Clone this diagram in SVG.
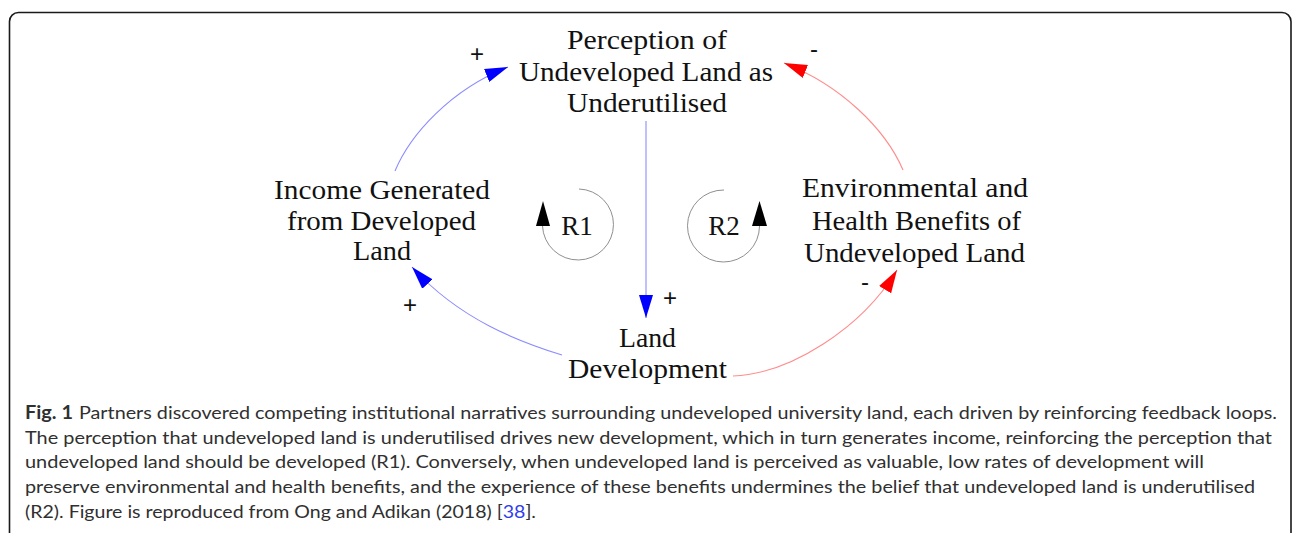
<svg xmlns="http://www.w3.org/2000/svg" width="1292" height="533" viewBox="0 0 1292 533">
  <defs>
    <style>
      .lbl { font-family: "Liberation Serif", "Times New Roman", serif; font-size: 27px; fill: #111; text-anchor: middle; }
      .sign { font-family: "Liberation Sans", Arial, sans-serif; font-size: 24px; fill: #111; text-anchor: middle; }
      .cap { font-family: Lato, "Liberation Sans", sans-serif; font-size: 18px; fill: #303030; }
      .link-pos { fill: none; stroke: #8c8cff; stroke-width: 1.1; }
      .link-neg { fill: none; stroke: #ff8c8c; stroke-width: 1.1; }
      .loop { fill: none; stroke: #8f8f8f; stroke-width: 1; }
    </style>
    <marker id="headBlue" markerUnits="userSpaceOnUse" markerWidth="24" markerHeight="14" refX="23" refY="7" orient="auto">
      <path d="M0,0 L23,7 L0,14 Z" fill="#0000ff"/>
    </marker>
    <marker id="headRed" markerUnits="userSpaceOnUse" markerWidth="24" markerHeight="14" refX="23" refY="7" orient="auto">
      <path d="M0,0 L23,7 L0,14 Z" fill="#ff0000"/>
    </marker>
  </defs>

  <rect width="1292" height="533" fill="#ffffff"/>
  <!-- figure frame -->
  <rect x="9.5" y="12.5" width="1281.5" height="620" rx="9" ry="9" fill="none" stroke="#1a1a1a" stroke-width="1.6"/>

  <!-- causal links -->
  <g id="connectors">
    <path class="link-pos" d="M395,171 C410,135 450,90 508,67" marker-end="url(#headBlue)"/>
    <path class="link-neg" d="M903,170 C885,128 840,85 784,63" marker-end="url(#headRed)"/>
    <path class="link-pos" d="M646,121 L646,318" marker-end="url(#headBlue)"/>
    <path class="link-pos" d="M562,355 C520,342 460,320 412,267" marker-end="url(#headBlue)"/>
    <path class="link-neg" d="M733,376 C790,374 862,328 897,270" marker-end="url(#headRed)"/>
    <text class="sign" x="477" y="61.5">+</text>
    <text class="sign" x="814" y="56.5">-</text>
    <text class="sign" x="670" y="305.5">+</text>
    <text class="sign" x="410" y="312.5">+</text>
    <text class="sign" x="865" y="289.5">-</text>
  </g>

  <g id="perception">
    <text class="lbl" x="647" y="49" textLength="160" lengthAdjust="spacingAndGlyphs">Perception of</text>
    <text class="lbl" x="646" y="81" textLength="254" lengthAdjust="spacingAndGlyphs">Undeveloped Land as</text>
    <text class="lbl" x="647" y="112" textLength="160" lengthAdjust="spacingAndGlyphs">Underutilised</text>
  </g>

  <g id="income">
    <text class="lbl" x="382" y="199" textLength="216" lengthAdjust="spacingAndGlyphs">Income Generated</text>
    <text class="lbl" x="381.5" y="229.5" textLength="189" lengthAdjust="spacingAndGlyphs">from Developed</text>
    <text class="lbl" x="382" y="260" textLength="58" lengthAdjust="spacingAndGlyphs">Land</text>
  </g>

  <g id="benefits">
    <text class="lbl" x="915" y="197" textLength="226" lengthAdjust="spacingAndGlyphs">Environmental and</text>
    <text class="lbl" x="916.5" y="229.5" textLength="209" lengthAdjust="spacingAndGlyphs">Health Benefits of</text>
    <text class="lbl" x="914.5" y="261.5" textLength="221" lengthAdjust="spacingAndGlyphs">Undeveloped Land</text>
  </g>

  <g id="development">
    <text class="lbl" x="647.5" y="347" textLength="57" lengthAdjust="spacingAndGlyphs">Land</text>
    <text class="lbl" x="647.5" y="378" textLength="159" lengthAdjust="spacingAndGlyphs">Development</text>
  </g>

  <g id="loop-r1">
    <path class="loop" d="M579,189 A35.5,35.5 0 1 1 542.5,226"/>
    <polygon points="543,201 536,226 550,226" fill="#000"/>
    <text class="lbl" x="577" y="235">R1</text>
  </g>

  <g id="loop-r2">
    <path class="loop" d="M724,190 A36,36 0 1 0 759.5,226"/>
    <polygon points="759.5,201 752,226 767,226" fill="#000"/>
    <text class="lbl" x="724" y="235">R2</text>
  </g>

  <!-- caption -->
  <g id="caption">
    <text class="cap" x="25" y="419" font-weight="bold" fill="#1a1a1a" textLength="48" lengthAdjust="spacingAndGlyphs">Fig. 1</text>
    <text class="cap" x="79" y="419" textLength="1198" lengthAdjust="spacingAndGlyphs">Partners discovered competing institutional narratives surrounding undeveloped university land, each driven by reinforcing feedback loops.</text>
    <text class="cap" x="25" y="444" textLength="1247" lengthAdjust="spacingAndGlyphs">The perception that undeveloped land is underutilised drives new development, which in turn generates income, reinforcing the perception that</text>
    <text class="cap" x="25" y="468" textLength="1179" lengthAdjust="spacingAndGlyphs">undeveloped land should be developed (R1). Conversely, when undeveloped land is perceived as valuable, low rates of development will</text>
    <text class="cap" x="25" y="493" textLength="1230" lengthAdjust="spacingAndGlyphs">preserve environmental and health benefits, and the experience of these benefits undermines the belief that undeveloped land is underutilised</text>
    <text class="cap" x="25" y="518" textLength="511" lengthAdjust="spacingAndGlyphs">(R2). Figure is reproduced from Ong and Adikan (2018) [<tspan fill="#2f3cf0">38</tspan>].</text>
  </g>
</svg>
